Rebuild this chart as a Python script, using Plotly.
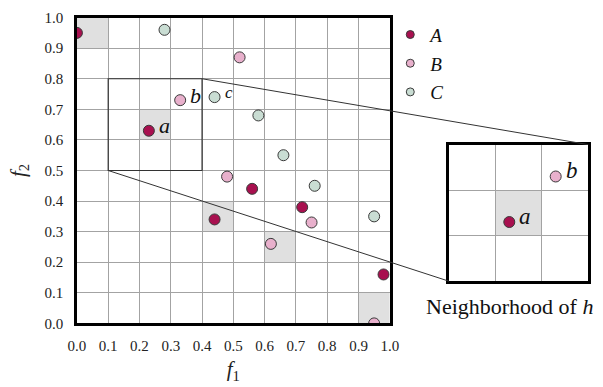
import plotly.graph_objects as go

# Objective-space samples for the three classes
A_f1 = [0.0, 0.23, 0.44, 0.56, 0.72, 0.98]
A_f2 = [0.95, 0.63, 0.34, 0.44, 0.38, 0.16]
B_f1 = [0.33, 0.52, 0.48, 0.62, 0.75, 0.95]
B_f2 = [0.73, 0.87, 0.48, 0.26, 0.33, 0.0]
C_f1 = [0.28, 0.44, 0.58, 0.66, 0.76, 0.95]
C_f2 = [0.96, 0.74, 0.68, 0.55, 0.45, 0.35]

series_names = ["A", "B", "C"]
tick_values = [0.0, 0.1, 0.2, 0.3, 0.4, 0.5, 0.6, 0.7, 0.8, 0.9, 1.0]

# Lower-left corners of highlighted grid cells (cell width 0.1)
shaded_f1 = [0.0, 0.2, 0.4, 0.6, 0.9]
shaded_f2 = [0.9, 0.6, 0.3, 0.2, 0.0]
cell = 0.1

# Neighbourhood window that is magnified in the inset
hood_f1 = [0.1, 0.4]
hood_f2 = [0.5, 0.8]

# Named points: (label, series index, point index)
point_labels = [("a", 0, 1), ("b", 1, 0), ("c", 2, 1)]

colors = ["#a8104f", "#e8b0cc", "#c9ddd3"]
edge = "#3a3a3a"
grid = "#a3a3a3"
serif = "Liberation Serif"

W, H = 603, 387
main_x_dom = [70 / W, 392.5 / W]
main_y_dom = [58 / H, 377 / H]
ins_x_dom = [453.5 / W, 597 / W]
ins_y_dom = [102 / H, 244.5 / H]

xs = [A_f1, B_f1, C_f1]
ys = [A_f2, B_f2, C_f2]

fig = go.Figure()
for i, name in enumerate(series_names):
    fig.add_trace(go.Scatter(
        x=xs[i], y=ys[i], mode="markers", showlegend=False,
        marker=dict(size=11, color=colors[i], line=dict(color=edge, width=1)),
        xaxis="x", yaxis="y", hoverinfo="skip",
    ))
    # legend entry with a smaller swatch
    fig.add_trace(go.Scatter(
        x=[None], y=[None], mode="markers", name=f"<i>{name}</i>",
        legendgroup=name,
        marker=dict(size=8, color=colors[i], line=dict(color=edge, width=1)),
        xaxis="x", yaxis="y", hoverinfo="skip",
    ))
for i, name in enumerate(series_names):
    fig.add_trace(go.Scatter(
        x=xs[i], y=ys[i], mode="markers", showlegend=False,
        marker=dict(size=11, color=colors[i], line=dict(color=edge, width=1)),
        xaxis="x2", yaxis="y2", hoverinfo="skip",
    ))

shapes = []
# Highlighted cells in the main grid and in the inset
for x0, y0 in zip(shaded_f1, shaded_f2):
    shapes.append(dict(type="rect", xref="x", yref="y", x0=x0, x1=x0 + cell,
                       y0=y0, y1=y0 + cell, fillcolor="#e0e0e0",
                       line=dict(width=0), layer="below"))
    inside = (x0 >= hood_f1[0] - 1e-9 and x0 + cell <= hood_f1[1] + 1e-9 and
              y0 >= hood_f2[0] - 1e-9 and y0 + cell <= hood_f2[1] + 1e-9)
    if inside:
        shapes.append(dict(type="rect", xref="x2", yref="y2", x0=x0, x1=x0 + cell,
                           y0=y0, y1=y0 + cell, fillcolor="#e0e0e0",
                           line=dict(width=0), layer="below"))

# Neighbourhood window outline
shapes.append(dict(type="rect", xref="x", yref="y", x0=hood_f1[0], x1=hood_f1[1],
                   y0=hood_f2[0], y1=hood_f2[1], line=dict(color="#333333", width=1.2)))


def to_paper(xv, yv, xdom, ydom, xr, yr):
    px = xdom[0] + (xv - xr[0]) / (xr[1] - xr[0]) * (xdom[1] - xdom[0])
    py = ydom[0] + (yv - yr[0]) / (yr[1] - yr[0]) * (ydom[1] - ydom[0])
    return px, py


# Connector lines from the window corners to the inset corners
for cx, cy in [(hood_f1[1], hood_f2[1]), (hood_f1[0], hood_f2[0])]:
    p0 = to_paper(cx, cy, main_x_dom, main_y_dom, [0, 1], [0, 1])
    p1 = to_paper(cx, cy, ins_x_dom, ins_y_dom, hood_f1, hood_f2)
    shapes.append(dict(type="line", xref="paper", yref="paper",
                       x0=p0[0], y0=p0[1], x1=p1[0], y1=p1[1],
                       line=dict(color="#333333", width=1)))

annotations = []
label_sizes = {"a": 22, "b": 22, "c": 17}
for lab, si, pi in point_labels:
    annotations.append(dict(x=xs[si][pi], y=ys[si][pi], xref="x", yref="y",
                            text=f"<i>{lab}</i>", showarrow=False,
                            xanchor="left", xshift=8, yshift=5,
                            font=dict(family=serif, size=label_sizes[lab], color="#111")))
    inside = hood_f1[0] <= xs[si][pi] <= hood_f1[1] and hood_f2[0] <= ys[si][pi] <= hood_f2[1]
    if inside and lab != "c":
        annotations.append(dict(x=xs[si][pi], y=ys[si][pi], xref="x2", yref="y2",
                                text=f"<i>{lab}</i>", showarrow=False,
                                xanchor="left", xshift=8, yshift=6,
                                font=dict(family=serif, size=23, color="#111")))

annotations.append(dict(x=516 / W, y=(H - 311) / H, xref="paper", yref="paper",
                        text="Neighborhood of <i>h</i>", showarrow=False,
                        xanchor="center", yanchor="middle",
                        font=dict(family=serif, size=22, color="#111")))

axis_common = dict(showgrid=True, gridcolor=grid, gridwidth=1, zeroline=False,
                   showline=True, mirror=True, linecolor="black", linewidth=2.5)

fig.update_layout(
    width=W, height=H,
    margin=dict(l=0, r=0, t=0, b=0),
    paper_bgcolor="white", plot_bgcolor="white",
    font=dict(family=serif, color="#222"),
    xaxis=dict(domain=main_x_dom, range=[0, 1], tickvals=tick_values,
               tickformat=".1f", tickfont=dict(family=serif, size=15),
               ticks="outside", ticklen=7, tickcolor="rgba(0,0,0,0)",
               title=dict(text="<i>f</i><sub>1</sub>", font=dict(family=serif, size=21),
                          standoff=9),
               **axis_common),
    yaxis=dict(domain=main_y_dom, range=[0, 1], tickvals=tick_values,
               tickformat=".1f", tickfont=dict(family=serif, size=15),
               ticks="outside", ticklen=8, tickcolor="rgba(0,0,0,0)",
               title=dict(text="<i>f</i><sub>2</sub>", font=dict(family=serif, size=21),
                          standoff=14),
               **axis_common),
    xaxis2=dict(domain=ins_x_dom, range=hood_f1, anchor="y2", dtick=0.1, ticks="",
                showticklabels=False, **axis_common),
    yaxis2=dict(domain=ins_y_dom, range=hood_f2, anchor="x2", dtick=0.1, ticks="",
                showticklabels=False, **axis_common),
    shapes=shapes,
    annotations=annotations,
    showlegend=True,
    legend=dict(x=393 / W, y=(H - 8) / H, xanchor="left", yanchor="top",
                bgcolor="rgba(0,0,0,0)", tracegroupgap=1,
                font=dict(family=serif, size=19, color="#111")),
)

fig.write_html("out.html")
